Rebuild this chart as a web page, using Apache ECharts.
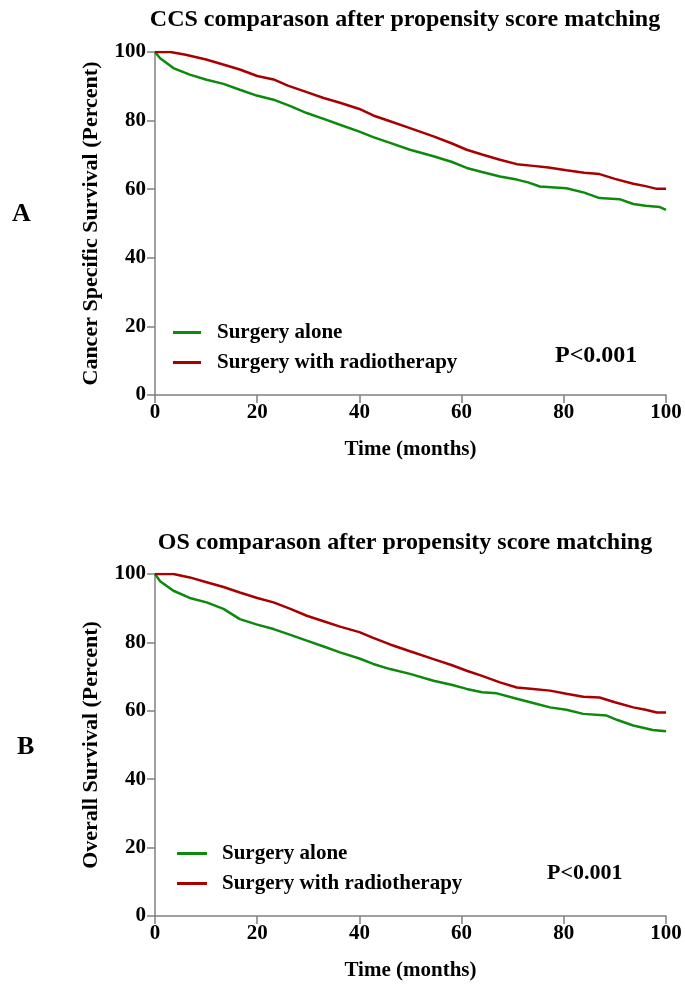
<!DOCTYPE html>
<html><head><meta charset="utf-8">
<script src="https://cdn.jsdelivr.net/npm/echarts@6/dist/echarts.min.js"></script>
<style>html,body{margin:0;padding:0;background:#fff}#c{width:685px;height:985px}</style>
</head><body><div id="c"></div>
<script>
const xTicks = [0, 20, 40, 60, 80, 100];
const yTicks = [0, 20, 40, 60, 80, 100];

const ccsRadioT = [0,3,6,10,13,16.6,20,23.2,26,29.7,33,36.2,40,42.7,46,49.9,54.5,58,61,64,67.5,70.8,74,77,80.5,84,87,90,93.6,96,98.2,100];
const ccsRadioV = [100,100,99.2,97.8,96.5,94.9,93,92,90.2,88.3,86.6,85.2,83.4,81.5,79.8,77.8,75.4,73.4,71.5,70.1,68.6,67.3,66.8,66.3,65.5,64.8,64.4,63.0,61.6,60.9,60.1,60.1];

const ccsAloneT = [0,1,3.6,6.8,10.1,13.4,16.6,19.9,23.2,26.5,29.7,33,36.2,40,42.7,46,49.9,54.5,58,61,64,67.5,70.8,73,75.3,80.5,84,87,90.9,93.6,96,98.8,100];
const ccsAloneV = [100,98.2,95.3,93.4,91.9,90.7,89,87.3,86.1,84.2,82.2,80.5,78.8,76.8,75.2,73.5,71.5,69.6,68.0,66.2,65.0,63.7,62.8,62.0,60.8,60.3,59.0,57.4,57.1,55.7,55.2,54.8,54];

const osRadioT = [0,3.6,6.8,10.1,13.4,16.6,20,23.2,26.5,29.7,33,36.2,40,42.7,46,49.9,54.5,58,61,64,67.5,70.8,74,77.3,80.5,83.8,87,90,93.6,96,98.2,100];
const osRadioV = [100,100,99.0,97.6,96.2,94.6,93.0,91.7,89.8,87.8,86.2,84.6,83.0,81.3,79.4,77.4,75.1,73.4,71.7,70.2,68.3,66.8,66.4,65.9,65.0,64.1,63.9,62.5,61.0,60.3,59.5,59.5];

const osAloneT = [0,1,3.6,6.8,10.1,13.4,16.6,20,23.2,26.5,29.7,33,36.2,40,42.7,46,49.9,54.5,58,61,64,66.9,70.8,74,77.3,80.5,83.8,88.4,90.5,93.6,97.4,100];
const osAloneV = [100,97.9,95.1,93.0,91.7,89.8,86.8,85.2,83.9,82.2,80.5,78.8,77.1,75.3,73.7,72.2,70.8,68.8,67.6,66.4,65.4,65.1,63.5,62.3,61.0,60.3,59.1,58.6,57.3,55.7,54.4,54];

const nameAlone = 'Surgery alone';
const nameRadio = 'Surgery with radiotherapy';
const GREEN = '#0b8a0b', RED = '#a80000';
const FONT = '"Liberation Serif","Times New Roman",serif';

function pairs(t, v) { return t.map((x, i) => [x, v[i]]); }

const axisLineStyle = { color: '#808080', width: 1.5 };
function xAx(gi) {
  return {
    gridIndex: gi, type: 'value', min: 0, max: 100, interval: 20,
    name: 'Time (months)', nameLocation: 'middle', nameGap: 44,
    nameTextStyle: { fontFamily: FONT, fontWeight: 'bold', fontSize: 21, color: '#000' },
    axisLine: { show: true, lineStyle: axisLineStyle },
    axisTick: { show: true, length: 8, lineStyle: axisLineStyle },
    axisLabel: { fontFamily: FONT, fontWeight: 'bold', fontSize: 21, color: '#000', margin: 7 },
    splitLine: { show: false }
  };
}
function yAx(gi, nm) {
  return {
    gridIndex: gi, type: 'value', min: 0, max: 100, interval: 20,
    name: nm, nameLocation: 'middle', nameGap: 53,
    nameTextStyle: { fontFamily: FONT, fontWeight: 'bold', fontSize: 22, color: '#000' },
    axisLine: { show: true, lineStyle: axisLineStyle },
    axisTick: { show: true, length: 8, lineStyle: axisLineStyle },
    axisLabel: { fontFamily: FONT, fontWeight: 'bold', fontSize: 21, color: '#000', margin: 9 },
    splitLine: { show: false }
  };
}
function ser(name, xi, data, color) {
  return { name, type: 'line', xAxisIndex: xi, yAxisIndex: xi, data, showSymbol: false, symbol: 'none',
    lineStyle: { color, width: 2.5 }, itemStyle: { color }, animation: false };
}
const txt = { fontFamily: FONT, fontWeight: 'bold', color: '#000' };

const chart = echarts.init(document.getElementById('c'), null, { renderer: 'canvas' });
chart.setOption({
  backgroundColor: '#fff',
  animation: false,
  title: [
    { text: 'CCS comparason after propensity score matching', left: 405, top: 8, padding: 0, textAlign: 'center', textStyle: { ...txt, fontSize: 24 } },
    { text: 'OS comparason after propensity score matching', left: 405, top: 531, padding: 0, textAlign: 'center', textStyle: { ...txt, fontSize: 24 } },
    { text: 'A', left: 12, top: 201, padding: 0, textStyle: { ...txt, fontSize: 26 } },
    { text: 'B', left: 17, top: 734, padding: 0, textStyle: { ...txt, fontSize: 26 } },
    { text: 'P<0.001', left: 555, top: 344, padding: 0, textStyle: { ...txt, fontSize: 24 } },
    { text: 'P<0.001', left: 547, top: 862, padding: 0, textStyle: { ...txt, fontSize: 22 } }
  ],
  grid: [
    { left: 155, top: 52, width: 511, height: 343 },
    { left: 155, top: 574, width: 511, height: 342 }
  ],
  xAxis: [xAx(0), xAx(1)],
  yAxis: [yAx(0, 'Cancer Specific Survival (Percent)'), yAx(1, 'Overall Survival (Percent)')],
  legend: [
    { data: [nameAlone, nameRadio], orient: 'vertical', left: 168, top: 317, itemGap: 9, itemWidth: 28, itemHeight: 3,
      icon: 'rect', textStyle: { ...txt, fontSize: 21, padding: [0,0,0,11] } , selectedMode: false },
    { data: [nameAlone, nameRadio], orient: 'vertical', left: 172, top: 838, itemGap: 9, itemWidth: 30, itemHeight: 3,
      icon: 'rect', textStyle: { ...txt, fontSize: 21, padding: [0,0,0,10] }, selectedMode: false }
  ],
  series: [
    ser(nameAlone, 0, pairs(ccsAloneT, ccsAloneV), GREEN),
    ser(nameRadio, 0, pairs(ccsRadioT, ccsRadioV), RED),
    ser(nameAlone, 1, pairs(osAloneT, osAloneV), GREEN),
    ser(nameRadio, 1, pairs(osRadioT, osRadioV), RED)
  ]
});
</script></body></html>
